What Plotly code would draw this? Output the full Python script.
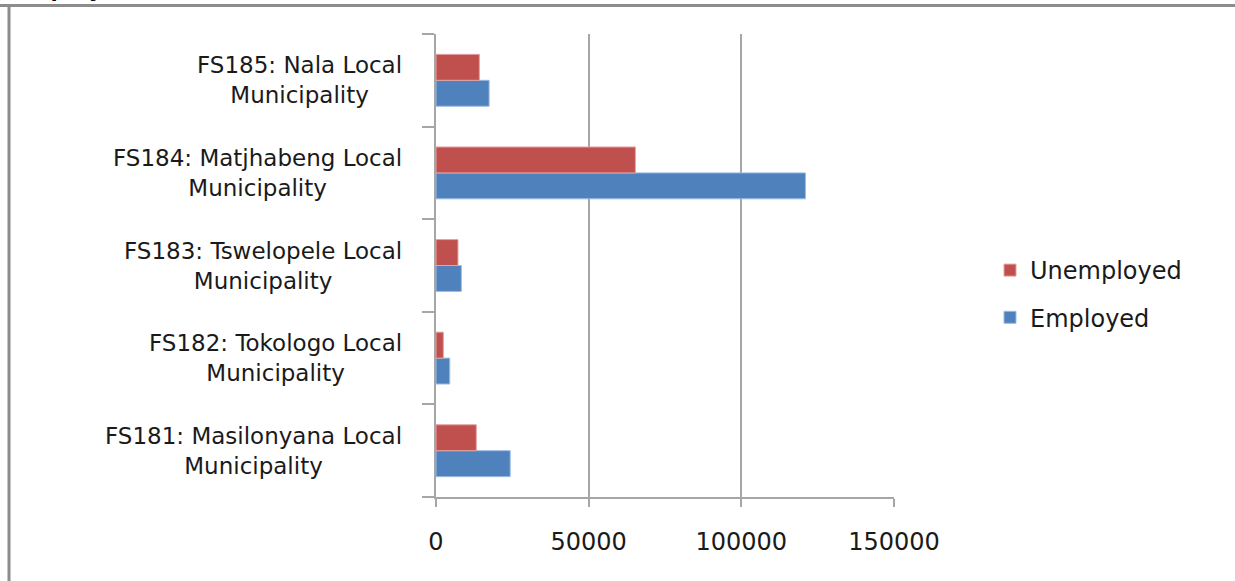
import plotly.graph_objects as go

# Municipalities (bottom to top on the category axis)
municipalities = [
    "FS181: Masilonyana Local<br>Municipality",
    "FS182: Tokologo Local<br>Municipality",
    "FS183: Tswelopele Local<br>Municipality",
    "FS184: Matjhabeng Local<br>Municipality",
    "FS185: Nala Local<br>Municipality",
]
employed = [24300, 4500, 8300, 121000, 17400]
unemployed = [13200, 2400, 7200, 65300, 14200]
x_ticks = [0, 50000, 100000, 150000]

W, H = 1235, 581
ML, MR, MT, MB = 436, 341, 34, 84
pw = W - ML - MR
ph = H - MT - MB


def px_to_paper_x(px):
    return (px - ML) / pw


def px_to_paper_y(py):
    return (H - MB - py) / ph


font_family = "DejaVu Sans, Verdana, sans-serif"
grey = "#a6a6a6"
text_color = "#1a1a1a"

fig = go.Figure()
fig.add_trace(go.Bar(
    y=municipalities, x=employed, name="Employed", orientation="h",
    marker=dict(color="#4F81BD", line=dict(color="#9bbbe3", width=1)),
    legendgroup="emp", legendrank=2,
))
fig.add_trace(go.Bar(
    y=municipalities, x=unemployed, name="Unemployed", orientation="h",
    marker=dict(color="#C0504D", line=dict(color="#e3a3a1", width=1)),
    legendgroup="unemp", legendrank=1,
))

fig.update_layout(
    width=W, height=H,
    margin=dict(l=ML, r=MR, t=MT, b=MB),
    paper_bgcolor="white", plot_bgcolor="white",
    barmode="group", bargap=0.44, bargroupgap=0,
    font=dict(family=font_family, size=22, color=text_color),
    showlegend=True,
    legend=dict(
        x=px_to_paper_x(990), y=px_to_paper_y(248), xanchor="left", yanchor="top",
        traceorder="grouped", tracegroupgap=13,
        font=dict(size=24, family=font_family, color=text_color),
        bgcolor="rgba(0,0,0,0)",
    ),
    xaxis=dict(
        range=[0, 150000], tickvals=x_ticks, tickformat="d",
        showgrid=True, gridcolor=grey, gridwidth=2,
        showline=True, linecolor=grey, linewidth=2,
        ticks="outside", ticklen=8, tickwidth=2, tickcolor=grey,
        ticklabelstandoff=14, zeroline=False,
        tickfont=dict(size=24),
    ),
    yaxis=dict(
        type="category", tickson="boundaries",
        showgrid=False, showline=True, linecolor=grey, linewidth=2,
        ticks="outside", ticklen=12, tickwidth=2, tickcolor=grey,
        showticklabels=False,
        range=[-0.5, 4.5],
    ),
)

# Category labels: each two-line label centred within itself, block right-aligned
for name in municipalities:
    fig.add_annotation(
        text=name, xref="paper", yref="y",
        x=px_to_paper_x(404), y=name, xanchor="right", yanchor="middle",
        align="center", showarrow=False,
        font=dict(size=23, family=font_family, color=text_color),
    )

# Frame around the chart
fig.add_shape(type="line", xref="paper", yref="paper",
              x0=px_to_paper_x(0), x1=px_to_paper_x(W),
              y0=px_to_paper_y(5.5), y1=px_to_paper_y(5.5),
              line=dict(color="#8c8c8c", width=3))
fig.add_shape(type="line", xref="paper", yref="paper",
              x0=px_to_paper_x(9), x1=px_to_paper_x(9),
              y0=px_to_paper_y(4), y1=px_to_paper_y(H + 5),
              line=dict(color="#8c8c8c", width=3))

# Heading above the frame (mostly outside the page)
fig.add_annotation(
    text="<b>Employment</b>", xref="paper", yref="paper",
    x=px_to_paper_x(8), y=px_to_paper_y(4), xanchor="left", yanchor="bottom",
    showarrow=False, font=dict(size=26, family="Liberation Sans, Arial", color="black"),
)

fig.write_html("out.html")
